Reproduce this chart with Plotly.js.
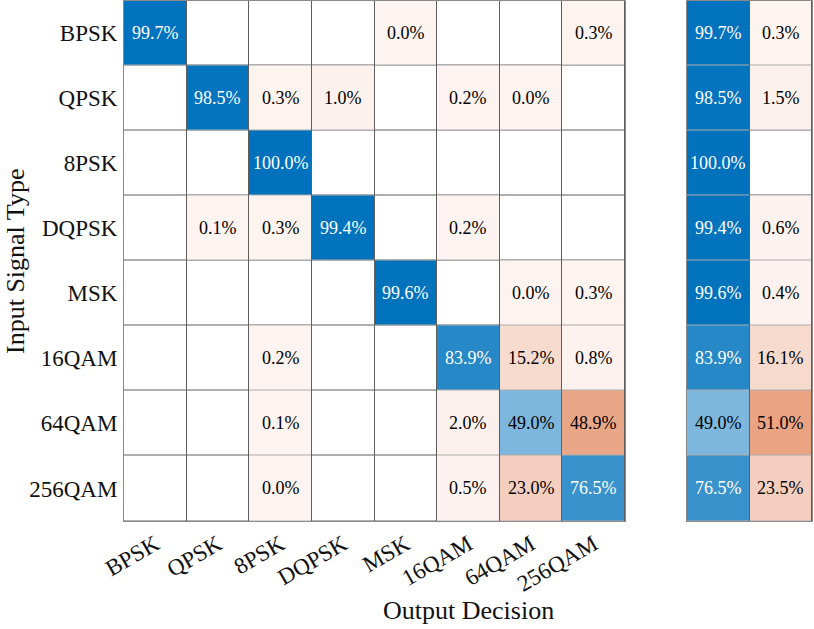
<!DOCTYPE html>
<html><head><meta charset="utf-8">
<script src="https://cdn.plot.ly/plotly-3.0.1.min.js"></script>
<style>html,body{margin:0;padding:0;background:#fff;}#chart{width:814px;height:629px;}</style>
</head><body><div id="chart"></div>
<script>
const categories = ['BPSK','QPSK','8PSK','DQPSK','MSK','16QAM','64QAM','256QAM'];
const summaryCols = ['correct','incorrect'];
// rows = input signal type, columns = output decision (percent of row); null = no samples
const rowBPSK   = [99.7, null, null, null, 0.0, null, null, 0.3];
const rowQPSK   = [null, 98.5, 0.3, 1.0, null, 0.2, 0.0, null];
const row8PSK   = [null, null, 100.0, null, null, null, null, null];
const rowDQPSK  = [null, 0.1, 0.3, 99.4, null, 0.2, null, null];
const rowMSK    = [null, null, null, null, 99.6, null, 0.0, 0.3];
const row16QAM  = [null, null, 0.2, null, null, 83.9, 15.2, 0.8];
const row64QAM  = [null, null, 0.1, null, null, 2.0, 49.0, 48.9];
const row256QAM = [null, null, 0.0, null, null, 0.5, 23.0, 76.5];
const correctPct   = [99.7, 98.5, 100.0, 99.4, 99.6, 83.9, 49.0, 76.5];
const incorrectPct = [0.3, 1.5, null, 0.6, 0.4, 16.1, 51.0, 23.5];

const matrix = [rowBPSK,rowQPSK,row8PSK,rowDQPSK,rowMSK,row16QAM,row64QAM,row256QAM];
const DARK = 60; // above this, diagonal cells get white text
const diagZ   = matrix.map((r,i)=>r.map((v,j)=> i===j ? v : null));
const offZ    = matrix.map((r,i)=>r.map((v,j)=> i!==j ? v : null));
const baseZ   = matrix.map(r=>r.map(()=>0));
const sumRows = correctPct.map((v,i)=>[v, incorrectPct[i]]);
const sumBase = categories.map(()=>[0,0]);
const sumDiag = correctPct.map(v=>[v, null]);
const sumOff  = incorrectPct.map(v=>[null, v]);

const blueScale = [[0,'rgb(245,249,252)'],[1,'rgb(0,114,189)']];
const orangeScale = [[0,'rgb(253,243,240)'],[0.5,'rgb(234,165,133)'],[1,'rgb(217,83,25)']];
const whiteScale = [[0,'#ffffff'],[1,'#ffffff']];
const FONT = 'Liberation Serif';
const GAP = 1;

function hm(xa, xs, z, cs){
  return {type:'heatmap', x:xs, y:categories, z:z, colorscale:cs, zmin:0, zmax:100,
    showscale:false, xgap:GAP, ygap:GAP, hoverinfo:'skip', xaxis:xa, yaxis:'y'};
}

const data = [
  hm('x', categories, baseZ, whiteScale),
  hm('x', categories, diagZ, blueScale),
  hm('x', categories, offZ, orangeScale),
  hm('x2', summaryCols, sumBase, whiteScale),
  hm('x2', summaryCols, sumDiag, blueScale),
  hm('x2', summaryCols, sumOff, orangeScale)
];

// cell value labels as annotations placed on the category axes
function cellLabels(xref, xs, rows, isDiag){
  const out = [];
  rows.forEach((r,i)=>r.forEach((v,j)=>{
    if(v===null) return;
    out.push({xref:xref, yref:'y', x:xs[j], y:categories[i], text:v.toFixed(1)+'%',
      showarrow:false, xanchor:'center', yanchor:'middle',
      font:{family:FONT, size:18, color:(isDiag(i,j) && v>DARK) ? '#ffffff' : '#000000'}});
  }));
  return out;
}

const W=814, H=629;
const layout = {
  width:W, height:H, margin:{l:0,r:0,t:0,b:0},
  paper_bgcolor:'#ffffff', plot_bgcolor:'#5e5e5e',
  showlegend:false,
  font:{family:FONT, color:'#111111'},
  xaxis:{domain:[124/W, 625/W], type:'category', categoryarray:categories, anchor:'y',
    showgrid:false, zeroline:false, ticks:'', tickangle:-30,
    tickfont:{family:FONT, size:23, color:'#111111'},
    showline:true, linecolor:'#8a8a8a', linewidth:1, mirror:true, fixedrange:true},
  xaxis2:{domain:[687/W, 812/W], type:'category', categoryarray:summaryCols, anchor:'y',
    showgrid:false, zeroline:false, ticks:'', showticklabels:false,
    showline:true, linecolor:'#8a8a8a', linewidth:1, mirror:true, fixedrange:true},
  yaxis:{domain:[1-521/H, 1-0.5/H], type:'category', categoryarray:categories, autorange:'reversed',
    anchor:'x', showgrid:false, zeroline:false, ticks:'', ticklabelstandoff:1,
    tickfont:{family:FONT, size:23, color:'#111111'},
    showline:true, linecolor:'#8a8a8a', linewidth:1, mirror:'all', fixedrange:true},
  annotations:[
    {text:'Output Decision', xref:'paper', yref:'paper', x:468/W, y:1-610/H,
     xanchor:'center', yanchor:'middle', showarrow:false, font:{family:FONT, size:26, color:'#111111'}},
    {text:'Input Signal Type', xref:'paper', yref:'paper', x:15/W, y:1-262/H, textangle:-90,
     xanchor:'center', yanchor:'middle', showarrow:false, font:{family:FONT, size:26, color:'#111111'}}
  ].concat(cellLabels('x', categories, matrix, (i,j)=>i===j))
   .concat(cellLabels('x2', summaryCols, sumRows, (i,j)=>j===0))
};
Plotly.newPlot('chart', data, layout, {displayModeBar:false, staticPlot:true});
</script></body></html>
